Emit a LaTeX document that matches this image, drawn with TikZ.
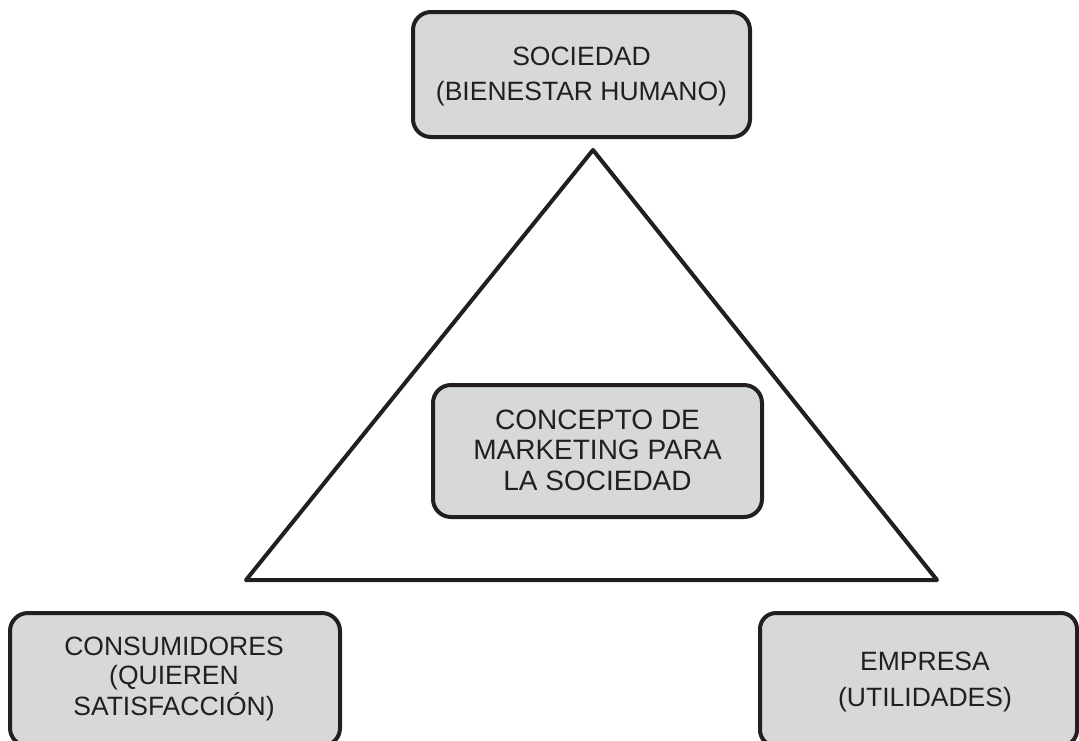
\documentclass[tikz,border=0pt]{standalone}
\usepackage{fontspec}
\setmainfont{Liberation Sans}
\definecolor{boxfill}{RGB}{215,216,218}
\definecolor{ink}{RGB}{35,31,32}
\newcommand{\txtlines}[3]{{\fontsize{#1}{#2}\selectfont\begin{tabular}[t]{@{}c@{}}#3\end{tabular}}}
\begin{document}
\begin{tikzpicture}[x=1pt,y=-1pt,
  boxshape/.style={draw=ink,fill=boxfill,line width=4pt,rounded corners=18pt},
  label/.style={anchor=base,inner sep=0pt,text=ink}]
\useasboundingbox (0,0) rectangle (1079,740);
\clip (0,0) rectangle (1079,740);
% triangle
\coordinate (apex) at (593,150);
\coordinate (bl) at (246,580);
\coordinate (br) at (937,580);
\draw[ink,line width=4pt,line join=round,line cap=round] (apex) -- (bl) -- (br) -- cycle;
% boxes
\draw[boxshape] (413,12) rectangle (750,137);
\node[label] (soc) at (581.5,65) {\txtlines{26.5}{35}{SOCIEDAD\\(BIENESTAR HUMANO)}};
\draw[boxshape] (433,385) rectangle (762,517);
\node[label] (conc) at (597.5,429) {\txtlines{28}{30.5}{CONCEPTO DE\\MARKETING PARA\\LA SOCIEDAD}};
\draw[boxshape] (10,613) rectangle (340,746);
\node[label] (cons) at (174,655) {\txtlines{26.5}{29}{CONSUMIDORES\\(QUIEREN\\SATISFACCIÓN)}};
\draw[boxshape,rounded corners=16pt] (760,613) rectangle (1077,746);
\node[label] (emp) at (925,670) {\txtlines{26.5}{36}{EMPRESA\\(UTILIDADES)}};
\end{tikzpicture}
\end{document}
